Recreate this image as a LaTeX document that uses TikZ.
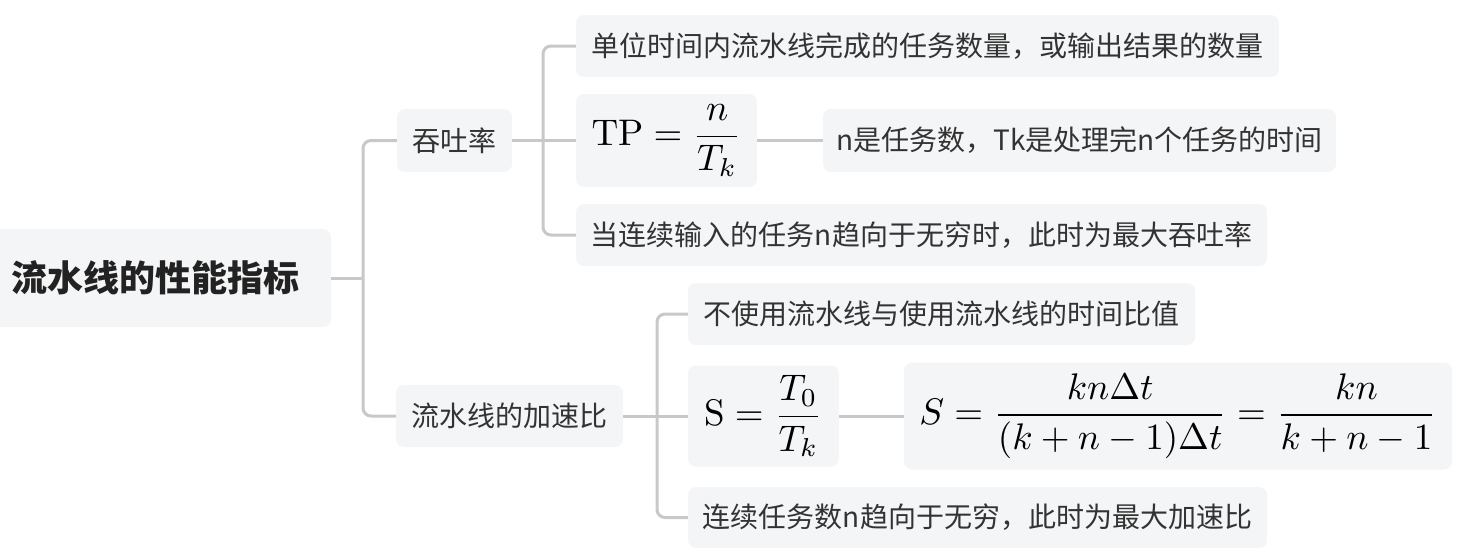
\RequirePackage{fix-cm}
\documentclass[tikz,border=0pt]{standalone}
\usepackage{amsmath}
\usepackage{graphicx}
\usepackage[no-math]{fontspec}
\setmainfont{Noto Sans CJK SC}
\definecolor{boxfill}{HTML}{F4F5F7}
\definecolor{linec}{HTML}{C8C8C8}
\definecolor{txt}{HTML}{333333}
\definecolor{rootc}{HTML}{222222}
\newcommand{\bigmath}[1]{\scalebox{3.7}{$\displaystyle #1$}}
\begin{document}
\begin{tikzpicture}[x=1pt,y=-1pt,
  box/.style={fill=boxfill, rounded corners=8pt, inner sep=0pt, text=txt,
    font=\fontsize{28}{34}\selectfont},
  mbox/.style={box, text=black, font=\fontsize{10}{12}\selectfont},
  conn/.style={draw=linec, line width=3pt, rounded corners=8pt}]
\useasboundingbox (0,0) rectangle (1473,557);
% nodes
\node[box, minimum width=351pt, minimum height=98pt, text=rootc,
  font=\fontsize{36}{40}\selectfont\bfseries] (root) at (155.5,278) {流水线的性能指标};
\node[box, minimum width=115pt, minimum height=63pt] (tun) at (454.5,140.5) {吞吐率};
\node[box, minimum width=227pt, minimum height=62pt] (acc) at (509.5,416) {流水线的加速比};
\node[box, minimum width=703pt, minimum height=62pt] (t1) at (927.5,46) {单位时间内流水线完成的任务数量，或输出结果的数量};
\node[mbox, minimum width=181pt, minimum height=93pt] (tp) at (666.5,140.5) {\bigmath{\mathrm{TP} = \frac{n}{T_k}}};
\node[box, minimum width=691pt, minimum height=62pt] (t3) at (921.5,235) {当连续输入的任务n趋向于无穷时，此时为最大吞吐率};
\node[box, minimum width=513pt, minimum height=63pt] (tpn) at (1079.5,140.5) {n是任务数，Tk是处理完n个任务的时间};
\node[box, minimum width=507pt, minimum height=62pt] (s1) at (941.5,314) {不使用流水线与使用流水线的时间比值};
\node[mbox, minimum width=151pt, minimum height=101pt] (sf) at (763.5,416) {\bigmath{\mathrm{S} = \frac{T_0}{T_k}}};
\node[box, minimum width=579pt, minimum height=61pt] (s3) at (977.5,517.5) {连续任务数n趋向于无穷，此时为最大加速比};
\node[mbox, minimum width=548pt, minimum height=107pt] (sbig) at (1178,416) {\bigmath{S = \frac{kn\Delta t}{(k+n-1)\Delta t} = \frac{kn}{k+n-1}}};
% connectors
\coordinate (j1) at (363,278);
\draw[conn] (root.east) -- (j1);
\draw[conn] (tun.west) -| (j1) |- (acc.west);
\coordinate (j2) at (543,140.5);
\draw[conn] (tun.east) -- (tp.west);
\draw[conn] (t1.west) -| (j2) |- (t3.west);
\draw[conn] (tp.east) -- (tpn.west);
\coordinate (j3) at (657,416);
\draw[conn] (acc.east) -- (sf.west);
\draw[conn] (s1.west) -| (j3) |- (s3.west);
\draw[conn] (sf.east) -- (sbig.west);
\end{tikzpicture}
\end{document}
